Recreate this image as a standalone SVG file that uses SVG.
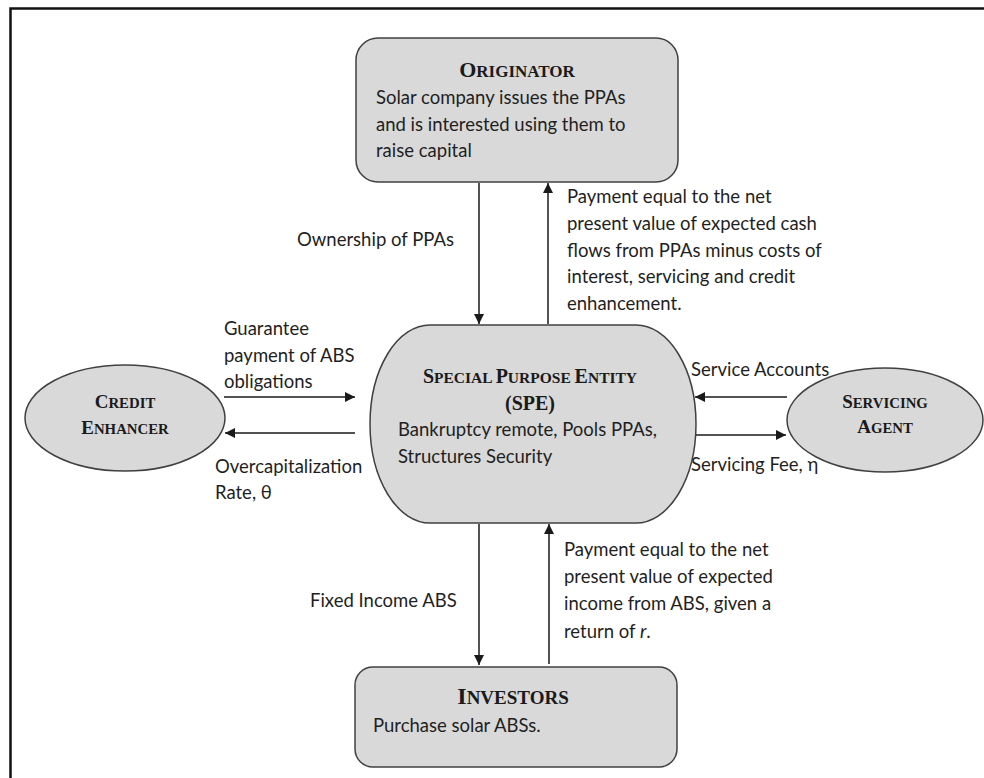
<svg xmlns="http://www.w3.org/2000/svg" width="984" height="778" viewBox="0 0 984 778">
<style>
.box{fill:#d9d9d9;stroke:#404040;stroke-width:1.5}
.hd{font-family:"Liberation Serif","Times New Roman",serif;font-weight:bold;fill:#1a1a1a;text-anchor:middle}
.tx{font-family:Lato,"Liberation Sans",sans-serif;font-size:18.5px;fill:#1f1f1f}
.ln{stroke:#1a1a1a;stroke-width:1.5;fill:none;marker-end:url(#ah)}
</style>
<defs>
<marker id="ah" viewBox="0 0 10 10" refX="10" refY="5" markerWidth="10" markerHeight="10" markerUnits="userSpaceOnUse" orient="auto">
<path d="M0,0 L10,5 L0,10 z" fill="#1a1a1a"/>
</marker>
</defs>
<rect width="984" height="778" fill="#fff"/>
<path d="M10.5,790 V8.5 H1000" fill="none" stroke="#111" stroke-width="2.5"/>

<g id="connectors">
<line class="ln" x1="479" y1="183" x2="479" y2="324"/>
<line class="ln" x1="548" y1="324" x2="548" y2="183"/>
<line class="ln" x1="224" y1="397" x2="355" y2="397"/>
<line class="ln" x1="355" y1="433" x2="225" y2="433"/>
<line class="ln" x1="787" y1="397" x2="695" y2="397"/>
<line class="ln" x1="695" y1="435" x2="786" y2="435"/>
<line class="ln" x1="479" y1="524" x2="479" y2="665"/>
<line class="ln" x1="549" y1="664" x2="549" y2="524"/>
<text class="tx" x="297" y="246">Ownership of PPAs</text>
<text class="tx" x="567" y="203">Payment equal to the net</text>
<text class="tx" x="567" y="230">present value of expected cash</text>
<text class="tx" x="567" y="257">flows from PPAs minus costs of</text>
<text class="tx" x="567" y="283">interest, servicing and credit</text>
<text class="tx" x="567" y="310">enhancement.</text>
<text class="tx" x="224" y="335">Guarantee</text>
<text class="tx" x="224" y="362">payment of ABS</text>
<text class="tx" x="224" y="388">obligations</text>
<text class="tx" x="215" y="473">Overcapitalization</text>
<text class="tx" x="215" y="499">Rate, θ</text>
<text class="tx" x="691" y="376">Service Accounts</text>
<text class="tx" x="691" y="471">Servicing Fee, η</text>
<text class="tx" x="310" y="607">Fixed Income ABS</text>
<text class="tx" x="564" y="556">Payment equal to the net</text>
<text class="tx" x="564" y="583">present value of expected</text>
<text class="tx" x="564" y="610">income from ABS, given a</text>
<text class="tx" x="564" y="638">return of <tspan font-style="italic">r</tspan>.</text>
</g>

<g id="originator">
<rect class="box" x="356" y="38" width="322" height="144" rx="22"/>
<text class="hd" x="517" y="77" font-size="17"><tspan font-size="22">O</tspan>RIGINATOR</text>
<text class="tx" x="376" y="104">Solar company issues the PPAs</text>
<text class="tx" x="376" y="131">and is interested using them to</text>
<text class="tx" x="376" y="157">raise capital</text>
</g>

<g id="spe">
<rect class="box" x="370" y="325" width="326" height="198" rx="60" ry="99"/>
<text class="hd" x="530" y="383" font-size="15.5"><tspan font-size="20">S</tspan>PECIAL <tspan font-size="20">P</tspan>URPOSE <tspan font-size="20">E</tspan>NTITY</text>
<text class="hd" x="530" y="410" font-size="20">(SPE)</text>
<text class="tx" x="398" y="436">Bankruptcy remote, Pools PPAs,</text>
<text class="tx" x="398" y="463">Structures Security</text>
</g>

<g id="credit-enhancer">
<ellipse class="box" cx="125" cy="418" rx="100" ry="53"/>
<text class="hd" x="125" y="408" font-size="14.8"><tspan font-size="19">C</tspan>REDIT</text>
<text class="hd" x="125" y="434" font-size="14.8"><tspan font-size="19">E</tspan>NHANCER</text>
</g>

<g id="servicing-agent">
<ellipse class="box" cx="885" cy="420" rx="98" ry="52"/>
<text class="hd" x="885" y="408" font-size="14.8"><tspan font-size="19">S</tspan>ERVICING</text>
<text class="hd" x="885" y="433" font-size="14.8"><tspan font-size="19">A</tspan>GENT</text>
</g>

<g id="investors">
<rect class="box" x="355" y="667" width="322" height="100" rx="18"/>
<text class="hd" x="513" y="704" font-size="19"><tspan font-size="24">I</tspan>NVESTORS</text>
<text class="tx" x="373" y="732">Purchase solar ABSs.</text>
</g>
</svg>
